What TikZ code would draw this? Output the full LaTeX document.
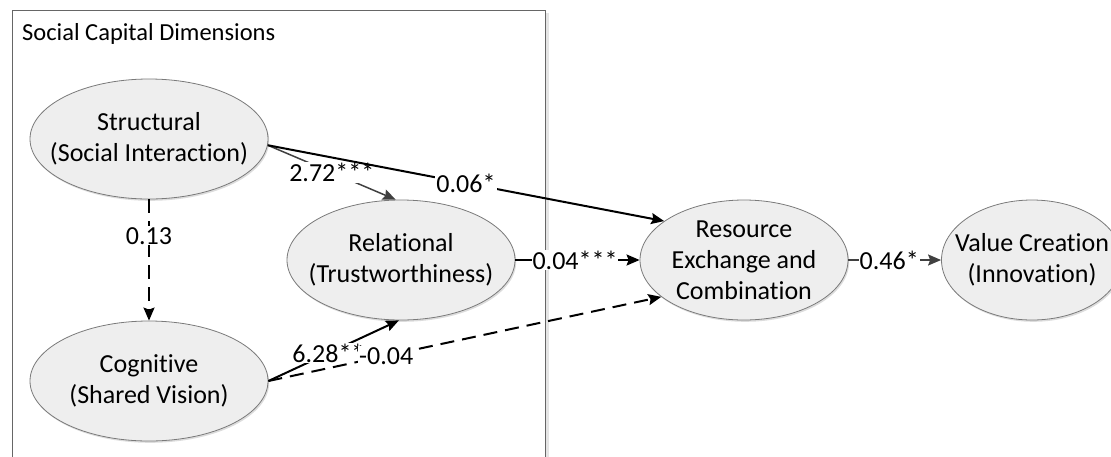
\documentclass[tikz,border=0pt]{standalone}
\usepackage{fontspec}
\setmainfont{Carlito}[Ligatures=NoCommon]
\usetikzlibrary{shapes.geometric,arrows.meta,shadows}
\definecolor{ellfill}{HTML}{EEEEEE}
\definecolor{ellline}{HTML}{7A7A7A}
\definecolor{darkarrow}{HTML}{404040}
\definecolor{boxline}{HTML}{666666}
\begin{document}
\begin{tikzpicture}[x=1pt,y=-1pt,
  ell/.style={ellipse, draw=ellline, line width=0.8pt, fill=ellfill,
    inner sep=0pt, minimum height=120pt,
    drop shadow={shadow xshift=1.2pt, shadow yshift=-1.8pt, opacity=0.3, fill=black!45}},
  elltext/.style={font=\fontsize{26}{31}\selectfont, align=center},
  lbl/.style={font=\fontsize{26}{31}\selectfont, fill=white, inner sep=1pt},
  tip/.style={-{Stealth[length=13pt,width=11pt,inset=2pt]}},
  solidarrow/.style={tip, line width=2pt, draw=black},
  dasharrow/.style={solidarrow, dash pattern=on 14pt off 8pt},
  greyarrow/.style={tip, line width=1.5pt, draw=darkarrow}
]
\useasboundingbox (0,0) rectangle (1111,456);

% container for the social capital dimensions
\fill[black!10] (545,13) rectangle (549,470);
\draw[boxline, line width=1pt] (12,470) -- (12,10) -- (545,10) -- (545,470);
\node[anchor=west, font=\fontsize{24.5}{30}\selectfont, inner sep=0pt] (title) at (22,34) {Social Capital Dimensions};

% constructs
\node[ell, minimum width=238pt, label={[elltext, name=strt]center:Structural\\(Social Interaction)}] (str) at (149,139) {};
\node[ell, minimum width=238pt, label={[elltext, name=cogt]center:Cognitive\\(Shared Vision)}] (cog) at (149,381) {};
\node[ell, minimum width=228pt, label={[elltext, name=relt]center:Relational\\(Trustworthiness)}] (rel) at (401,260) {};
\node[ell, minimum width=208pt, label={[elltext, name=rest]center:Resource\\Exchange and\\Combination}] (res) at (744,260) {};
\node[ell, minimum width=181pt, label={[elltext, name=valt]center:Value Creation\\(Innovation)}] (val) at (1032,260) {};

% paths with coefficients
\draw[dasharrow] (str.south) -- node[lbl, pos=0.3] (l013) {0.13} (cog.north);
\draw[greyarrow] (str.-3) -- node[lbl, pos=0.5] (l272) {2.72***} (rel.95);
\draw[solidarrow] (str.-3) -- node[lbl, pos=0.5] (l006) {0.06*} (res.154);
\draw[solidarrow] (cog.east) -- node[lbl, pos=0.46] (l628) {6.28**} (rel.268);
\draw[dasharrow] (cog.east) -- node[lbl, pos=0.3] (l004n) {-0.04} (res.204);
\draw[solidarrow] (rel.east) -- node[lbl, pos=0.48] (l004) {0.04***} (res.west);
\draw[greyarrow] (res.east) -- node[lbl, pos=0.44] (l046) {0.46*} (val.west);
\end{tikzpicture}
\end{document}
